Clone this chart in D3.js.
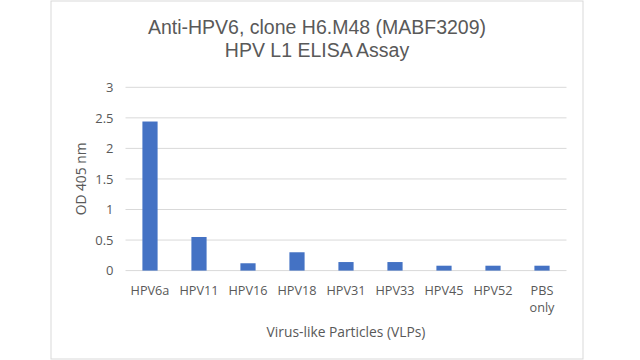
<!DOCTYPE html>
<html>
<head>
<meta charset="utf-8">
<script src="https://cdn.jsdelivr.net/npm/d3@7"></script>
<style>
  html, body { margin: 0; padding: 0; background: #fff; }
  svg { display: block; }
  text { font-family: "Open Sans", sans-serif; fill: #595959; }
  text.title { font-family: "Liberation Sans", Arial, sans-serif; }
</style>
</head>
<body>
<svg id="chart" width="640" height="360"></svg>
<script>
const categories = ["HPV6a", "HPV11", "HPV16", "HPV18", "HPV31", "HPV33", "HPV45", "HPV52", "PBS only"];
const values = [2.44, 0.55, 0.12, 0.30, 0.14, 0.14, 0.08, 0.08, 0.08];
const yTicks = [0, 0.5, 1, 1.5, 2, 2.5, 3];
const titleLines = ["Anti-HPV6, clone H6.M48 (MABF3209)", "HPV L1 ELISA Assay"];
const xTitle = "Virus-like Particles (VLPs)";
const yTitle = "OD 405 nm";

const svg = d3.select("#chart");
const plot = { left: 125.5, right: 566.5, top: 87.3, bottom: 270.6 };

// chart border
svg.append("rect")
  .attr("x", 51).attr("y", 1).attr("width", 532).attr("height", 358)
  .attr("fill", "#fff").attr("stroke", "#d9d9d9").attr("stroke-width", 1);

const x = d3.scaleBand().domain(categories).range([plot.left, plot.right]).paddingInner(0.69).paddingOuter(0.345);
const y = d3.scaleLinear().domain([0, 3]).range([plot.bottom, plot.top]);

// gridlines
svg.append("g").selectAll("line").data(yTicks).join("line")
  .attr("x1", plot.left).attr("x2", plot.right)
  .attr("y1", d => y(d)).attr("y2", d => y(d))
  .attr("stroke", "#d9d9d9").attr("stroke-width", 1);

// y axis labels
const yAxis = d3.axisLeft(y).tickValues(yTicks).tickSize(0).tickPadding(0).tickFormat(d3.format("~g"));
const gy = svg.append("g").attr("transform", `translate(${plot.left - 12},0)`).call(yAxis);
gy.select(".domain").remove();
gy.selectAll("text").attr("font-size", 13).attr("fill", "#595959");

// bars
svg.append("g").selectAll("rect").data(values).join("rect")
  .attr("x", (d, i) => x(categories[i]))
  .attr("width", x.bandwidth())
  .attr("y", d => y(d))
  .attr("height", d => y(0) - y(d))
  .attr("fill", "#4472C4");

// x labels
const xl = svg.append("g").selectAll("text").data(categories).join("text")
  .attr("x", d => x(d) + x.bandwidth() / 2)
  .attr("y", 295)
  .attr("text-anchor", "middle")
  .attr("font-size", 12.7);
xl.each(function(d) {
  const parts = d.split(" ");
  const t = d3.select(this);
  parts.forEach((p, i) => {
    t.append("tspan").attr("x", x(d) + x.bandwidth() / 2).attr("dy", i === 0 ? 0 : 17).text(p);
  });
});

// title
svg.append("g").selectAll("text").data(titleLines).join("text")
  .attr("class", "title")
  .attr("x", 317).attr("y", (d, i) => 34 + i * 23)
  .attr("text-anchor", "middle")
  .attr("font-size", 19.5)
  .text(d => d);

svg.append("text")
  .attr("x", (plot.left + plot.right) / 2).attr("y", 337)
  .attr("text-anchor", "middle").attr("font-size", 13.8)
  .text(xTitle);

svg.append("text")
  .attr("transform", `translate(86,${(plot.top + plot.bottom) / 2}) rotate(-90)`)
  .attr("text-anchor", "middle").attr("font-size", 13.8)
  .text(yTitle);
</script>
</body>
</html>
